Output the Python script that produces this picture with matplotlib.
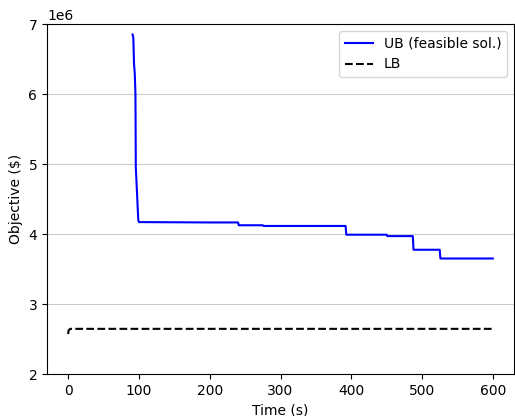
import matplotlib
matplotlib.use("Agg")
import matplotlib.pyplot as plt

# Upper bound (feasible solutions) over time
ub_time = [91, 92, 93, 94, 95, 95.5, 96, 99, 100, 200, 240, 241, 275, 276, 392, 393, 450, 451,
           487, 488, 525, 526, 600]
ub_value = [6.85e6, 6.80e6, 6.43e6, 6.30e6, 6.0e6, 4.95e6, 4.85e6, 4.20e6, 4.17e6, 4.165e6, 4.165e6,
            4.125e6, 4.125e6, 4.115e6, 4.115e6, 3.99e6, 3.99e6, 3.97e6, 3.97e6, 3.775e6, 3.775e6,
            3.65e6, 3.65e6]

# Lower bound over time
lb_time = [0, 0.3, 1, 3, 600]
lb_value = [2.57e6, 2.61e6, 2.63e6, 2.645e6, 2.645e6]

fig = plt.figure(figsize=(5.15, 4.16), dpi=100)
ax = fig.add_subplot(111)
fig.subplots_adjust(left=47/515, right=514/515, top=1-24/416, bottom=1-374/416)

ax.plot(ub_time, ub_value, color='blue', label='UB (feasible sol.)')
ax.plot(lb_time, lb_value, color='black', linestyle='--', label='LB')
ax.set_ylim(2e6, 7e6)
ax.set_xlabel('Time (s)')
ax.set_ylabel('Objective ($)')
ax.grid(True, axis='y', color='#cccccc')
ax.legend()
fig.savefig('out.png', dpi=100)
